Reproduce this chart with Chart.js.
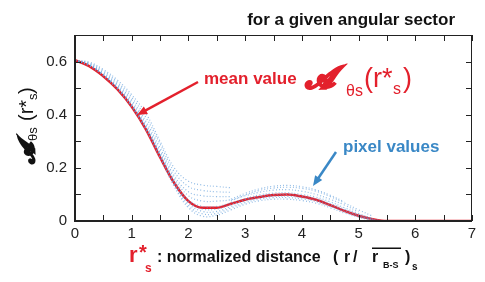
<!DOCTYPE html>
<html>
<head>
<meta charset="utf-8">
<script src="https://cdn.jsdelivr.net/npm/chart.js@4.4.1/dist/chart.umd.min.js"></script>
<style>
  html, body { margin: 0; padding: 0; background: #fff; }
  #wrap { width: 485px; height: 282px; }
</style>
</head>
<body>
<div id="wrap"><canvas id="c"></canvas></div>
<script>
// r*s sample positions shared by the mean and the pixel curves
var rValues = [0, 0.25, 0.5, 0.75, 1, 1.25, 1.5, 1.75, 2, 2.25, 2.5, 2.75, 3, 3.25, 3.5, 3.75, 4, 4.25, 4.5, 4.75, 5, 5.25, 5.5, 6, 7];

// mean value A_θs(r*s)
var meanValues = [0.605, 0.583, 0.545, 0.495, 0.43, 0.345, 0.24, 0.143, 0.075, 0.05, 0.05, 0.065, 0.08, 0.09, 0.098, 0.10, 0.092, 0.08, 0.06, 0.038, 0.02, 0.007, 0, 0, 0];

// individual pixel curves (null = curve not present there)
var pixelCurves = [
  [0.605, 0.584, 0.546, 0.495, 0.428, 0.343, 0.238, 0.13, 0.05, 0.018, 0.022, 0.042, 0.063, 0.076, 0.082, 0.082, 0.077, 0.067, 0.05, 0.03, 0.014, 0.004, 0],
  [0.605, 0.585, 0.548, 0.498, 0.431, 0.347, 0.243, 0.136, 0.058, 0.027, 0.029, 0.049, 0.069, 0.082, 0.088, 0.088, 0.083, 0.073, 0.055, 0.035, 0.017, 0.005, 0],
  [0.605, 0.586, 0.549, 0.5, 0.434, 0.35, 0.248, 0.142, 0.066, 0.036, 0.036, 0.055, 0.075, 0.087, 0.093, 0.093, 0.088, 0.078, 0.06, 0.04, 0.02, 0.006, 0],
  [0.605, 0.587, 0.55, 0.502, 0.437, 0.354, 0.252, 0.146, 0.073, 0.045, 0.045, 0.062, 0.08, 0.093, 0.099, 0.1, 0.094, 0.084, 0.066, 0.045, 0.024, 0.008, null],
  [0.605, 0.588, 0.552, 0.505, 0.44, 0.358, 0.256, 0.15, 0.08, 0.055, 0.055, 0.068, 0.085, 0.098, 0.105, 0.106, 0.1, 0.09, 0.072, 0.05, 0.028, 0.01, null],
  [0.605, 0.59, 0.556, 0.51, 0.447, 0.365, 0.265, 0.16, 0.095, 0.075, 0.075, 0.08, 0.095, 0.108, 0.116, 0.118, 0.112, 0.1, 0.082, 0.06, 0.035, null, null],
  [0.605, 0.592, 0.56, 0.515, 0.455, 0.375, 0.275, 0.17, 0.11, 0.095, 0.092, 0.092, null, null, null, null, null, null, null, null, null, null, null],
  [0.605, 0.595, 0.565, 0.522, 0.465, 0.39, 0.29, 0.185, 0.13, 0.115, 0.11, 0.108, null, null, null, null, null, null, null, null, null, null, null],
  [0.605, 0.598, 0.57, 0.53, 0.475, 0.405, 0.3, 0.2, 0.15, 0.135, 0.13, 0.125, null, null, null, null, null, null, null, null, null, null, null],
  [null, null, null, null, null, null, null, null, null, null, null, 0.075, 0.098, 0.115, 0.124, 0.127, 0.123, 0.112, 0.092, 0.068, 0.042, 0.018, null],
  [null, null, null, null, null, null, null, null, null, null, null, 0.082, 0.104, 0.121, 0.131, 0.134, 0.129, 0.117, 0.097, 0.072, null, null, null]
];

var xTicks = [0, 1, 2, 3, 4, 5, 6, 7];
var yTicks = [0, 0.2, 0.4, 0.6];

var red = '#e3202c';
var blue = '#3a88c6';
var dotBlue = 'rgba(100,160,220,0.7)';
var sans = '"Liberation Sans", Arial, sans-serif';

function pts(vals) {
  var out = [];
  for (var i = 0; i < vals.length; i++) {
    if (vals[i] !== null && vals[i] !== undefined) out.push({ x: rValues[i], y: vals[i] });
  }
  return out;
}

var datasets = [];
pixelCurves.forEach(function (c) {
  datasets.push({
    data: pts(c),
    showLine: true,
    borderColor: dotBlue,
    borderWidth: 1.2,
    borderDash: [1, 2.2],
    pointRadius: 0,
    tension: 0.4,
    fill: false
  });
});
datasets.push({
  data: pts(meanValues),
  showLine: true,
  borderColor: red,
  borderWidth: 2.5,
  pointRadius: 0,
  cubicInterpolationMode: 'monotone',
  fill: false
});

function arrow(ctx, x1, y1, x2, y2, color) {
  var a = Math.atan2(y2 - y1, x2 - x1);
  var h = 11;
  ctx.strokeStyle = color;
  ctx.fillStyle = color;
  ctx.lineWidth = 2.5;
  ctx.beginPath();
  ctx.moveTo(x1, y1);
  ctx.lineTo(x2 - Math.cos(a) * h * 0.8, y2 - Math.sin(a) * h * 0.8);
  ctx.stroke();
  ctx.beginPath();
  ctx.moveTo(x2, y2);
  ctx.lineTo(x2 - h * Math.cos(a - 0.4), y2 - h * Math.sin(a - 0.4));
  ctx.lineTo(x2 - h * Math.cos(a + 0.4), y2 - h * Math.sin(a + 0.4));
  ctx.closePath();
  ctx.fill();
}

function txt(ctx, s, x, y, font, color) {
  ctx.font = font;
  if (color) ctx.fillStyle = color;
  ctx.fillText(s, x, y);
}

var framePlugin = {
  id: 'frame',
  afterDraw: function (chart) {
    var ctx = chart.ctx;
    var a = chart.chartArea;
    var xs = chart.scales.x, ys = chart.scales.y;
    ctx.save();
    ctx.strokeStyle = '#222';
    ctx.lineWidth = 1;
    ctx.beginPath();
    ctx.moveTo(a.left, a.top + 0.5); ctx.lineTo(a.right, a.top + 0.5);
    ctx.moveTo(a.right - 0.5, a.top); ctx.lineTo(a.right - 0.5, a.bottom);
    ctx.stroke();
    ctx.lineWidth = 2;
    ctx.beginPath();
    ctx.moveTo(a.left, a.bottom); ctx.lineTo(a.right, a.bottom);
    ctx.moveTo(a.left, a.top); ctx.lineTo(a.left, a.bottom + 1);
    ctx.stroke();
    ctx.lineWidth = 1;
    ctx.beginPath();
    xs.ticks.forEach(function (t) {
      var px = Math.round(xs.getPixelForValue(t.value)) + 0.5;
      ctx.moveTo(px, a.bottom); ctx.lineTo(px, a.bottom - 6);
      ctx.moveTo(px, a.top); ctx.lineTo(px, a.top + 6);
    });
    ys.ticks.forEach(function (t) {
      var py = Math.round(ys.getPixelForValue(t.value)) + 0.5;
      ctx.moveTo(a.left, py); ctx.lineTo(a.left + 6, py);
      ctx.moveTo(a.right, py); ctx.lineTo(a.right - 6, py);
    });
    ctx.stroke();

    ctx.textBaseline = 'alphabetic';

    // title
    ctx.textAlign = 'right';
    txt(ctx, 'for a given angular sector', 455, 25, 'bold 17px ' + sans, '#111');
    ctx.textAlign = 'left';

    // mean value annotation
    txt(ctx, 'mean value', 204, 84, 'bold 17px ' + sans, red);
    ctx.font = 'bold italic 31px "DejaVu Serif", serif';
    ctx.strokeStyle = red;
    ctx.lineWidth = 1.6;
    ctx.fillText('\u{1D4D0}', 305, 88);
    ctx.strokeText('\u{1D4D0}', 305, 88);
    txt(ctx, '\u03B8s', 346, 96, '16px ' + sans);
    txt(ctx, '(r*', 364, 87, '27px ' + sans);
    txt(ctx, 's', 393, 94, '16px ' + sans);
    txt(ctx, ')', 403, 87, '27px ' + sans);
    arrow(ctx, 198, 82, 137, 115, red);

    // pixel values annotation
    txt(ctx, 'pixel values', 343, 152, 'bold 17px ' + sans, blue);
    arrow(ctx, 336, 152, 313, 186, blue);

    // x axis title
    txt(ctx, 'r', 129, 262, 'bold 22px ' + sans, red);
    txt(ctx, '*', 139, 259, 'bold 20px ' + sans);
    txt(ctx, 's', 145, 272, 'bold 12px ' + sans);
    txt(ctx, ': normalized distance', 157, 262, 'bold 16px ' + sans, '#111');
    txt(ctx, '(', 333, 262, 'bold 16px ' + sans);
    txt(ctx, 'r', 344, 262, 'bold 16px ' + sans);
    txt(ctx, '/', 353, 262, 'bold 16px ' + sans);
    txt(ctx, 'r', 372, 262, 'bold 16px ' + sans);
    txt(ctx, 'B-S', 383, 268, 'bold 9px ' + sans);
    ctx.fillRect(372, 247.5, 29, 1.5);
    txt(ctx, ')', 405, 262, 'bold 16px ' + sans);
    txt(ctx, 's', 412, 270, 'bold 10px ' + sans);

    // y axis title (rotated)
    ctx.save();
    ctx.translate(34, 164);
    ctx.rotate(-Math.PI / 2);
    ctx.fillStyle = '#111';
    ctx.strokeStyle = '#111';
    ctx.font = 'bold italic 22px "DejaVu Serif", serif';
    ctx.fillText('\u{1D4D0}', 0, 0);
    ctx.lineWidth = 1.4;
    ctx.strokeText('\u{1D4D0}', 0, 0);
    txt(ctx, '\u03B8s', 23, 3, '13px ' + sans);
    txt(ctx, '(r*', 43, -1, '20px ' + sans);
    txt(ctx, 's', 64, 3, '13px ' + sans);
    txt(ctx, ')', 70, -1, '20px ' + sans);
    ctx.restore();

    ctx.restore();
  }
};

new Chart(document.getElementById('c'), {
  type: 'scatter',
  data: { datasets: datasets },
  options: {
    responsive: true,
    maintainAspectRatio: false,
    animation: false,
    layout: { padding: { left: 0, right: 13, top: 35, bottom: 41 } },
    plugins: { legend: { display: false }, tooltip: { enabled: false } },
    scales: {
      x: {
        type: 'linear',
        min: 0, max: 7,
        grid: { display: false, drawTicks: false },
        border: { display: false },
        afterFit: function (s) { s.height = 20; },
        ticks: {
          stepSize: 0.5,
          padding: 4,
          color: '#222',
          font: { family: sans, size: 15 },
          maxRotation: 0,
          autoSkip: false,
          callback: function (v) { return xTicks.indexOf(v) >= 0 ? String(v) : ''; }
        }
      },
      y: {
        min: 0, max: 0.7,
        grid: { display: false, drawTicks: false },
        border: { display: false },
        afterFit: function (s) { s.width = 75; },
        ticks: {
          stepSize: 0.1,
          padding: 8,
          color: '#222',
          font: { family: sans, size: 15 },
          autoSkip: false,
          callback: function (v) {
            var r = Math.round(v * 10) / 10;
            return yTicks.indexOf(r) >= 0 ? String(r) : '';
          }
        }
      }
    }
  },
  plugins: [framePlugin]
});
</script>
</body>
</html>
